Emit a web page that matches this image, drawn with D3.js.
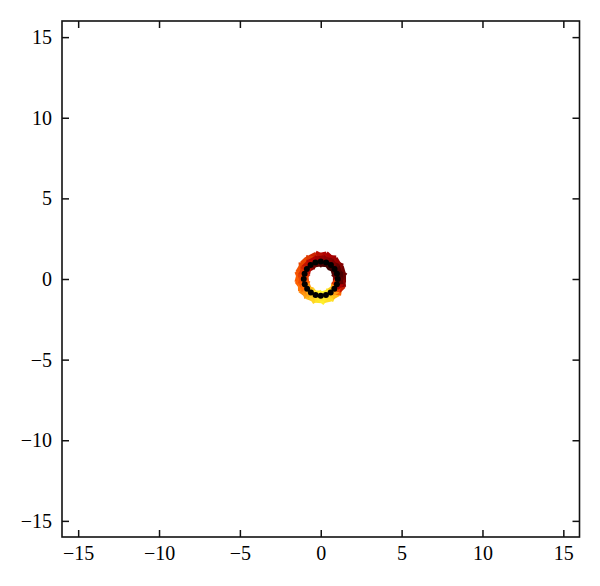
<!DOCTYPE html>
<html>
<head>
<meta charset="utf-8">
<script src="https://cdn.jsdelivr.net/npm/d3@7"></script>
<style>
  body { margin: 0; background: #fff; }
  .axis text { font-family: "Liberation Serif", "Times New Roman", serif; font-size: 20px; fill: #000; }
  .axis line { stroke: #111; stroke-width: 1.5; }
</style>
</head>
<body>
<div id="chart"></div>
<script>
// tick values shared by both axes
const tickValues = [-15, -10, -5, 0, 5, 10, 15];

// outer band of coloured points (angle in degrees, radius in axis units, colour value 0..1)
const outerAngle = [0, 12, 24, 36, 48, 60, 72, 84, 96, 108, 120, 132, 144, 156, 168, 180, 192, 204, 216, 228, 240, 252, 264, 276, 288, 300, 312, 324, 336, 348];
const outerRadius = [1.34, 1.36, 1.38, 1.40, 1.42, 1.44, 1.46, 1.45, 1.46, 1.44, 1.42, 1.43, 1.40, 1.38, 1.36, 1.35, 1.32, 1.30, 1.31, 1.29, 1.28, 1.30, 1.28, 1.30, 1.29, 1.31, 1.30, 1.32, 1.33, 1.35];
const outerValue = [0.22, 0.2, 0.22, 0.26, 0.3, 0.32, 0.34, 0.36, 0.4, 0.48, 0.55, 0.6, 0.6, 0.64, 0.66, 0.68, 0.7, 0.74, 0.78, 0.82, 0.88, 0.92, 0.95, 0.97, 0.94, 0.94, 0.88, 0.72, 0.45, 0.28];

// middle band
const midAngle = [6, 18, 30, 42, 54, 66, 78, 90, 102, 114, 126, 138, 150, 162, 174, 186, 198, 210, 222, 234, 246, 258, 270, 282, 294, 306, 318, 330, 342, 354];
const midRadius = [1.18, 1.17, 1.19, 1.2, 1.2, 1.22, 1.22, 1.23, 1.22, 1.21, 1.2, 1.2, 1.19, 1.18, 1.17, 1.16, 1.15, 1.15, 1.14, 1.14, 1.13, 1.13, 1.14, 1.13, 1.14, 1.15, 1.15, 1.16, 1.17, 1.17];
const midValue = [0.15, 0.14, 0.16, 0.2, 0.24, 0.26, 0.28, 0.3, 0.32, 0.35, 0.38, 0.42, 0.48, 0.54, 0.58, 0.62, 0.66, 0.72, 0.78, 0.84, 0.9, 0.94, 0.95, 0.96, 0.93, 0.9, 0.82, 0.6, 0.35, 0.2];

// inner band, inside the black dots
const innerAngle = [0, 15, 30, 45, 60, 75, 90, 105, 120, 135, 150, 165, 180, 195, 210, 225, 240, 255, 270, 285, 300, 315, 330, 345];
const innerRadius = [0.93, 0.93, 0.94, 0.94, 0.95, 0.95, 0.95, 0.95, 0.94, 0.94, 0.93, 0.93, 0.92, 0.92, 0.92, 0.92, 0.92, 0.92, 0.92, 0.92, 0.92, 0.93, 0.93, 0.93];
const innerValue = [0.3, 0.2, 0.15, 0.12, 0.12, 0.14, 0.15, 0.18, 0.22, 0.3, 0.4, 0.5, 0.6, 0.7, 0.8, 0.88, 0.92, 0.96, 0.98, 0.98, 0.96, 0.92, 0.82, 0.55];

// black dots
const dotAngle = [0, 18, 36, 54, 72, 90, 108, 126, 144, 162, 180, 198, 216, 234, 252, 270, 288, 306, 324, 342];
const dotRadius = [1.05, 1.05, 1.06, 1.07, 1.07, 1.08, 1.07, 1.07, 1.06, 1.05, 1.05, 1.04, 1.04, 1.04, 1.04, 1.04, 1.04, 1.04, 1.04, 1.05];

const width = 600;
const height = 586;
const margin = { top: 21, right: 20.5, bottom: 49, left: 62 };

const xScale = d3.scaleLinear().domain([-16, 16]).range([margin.left, width - margin.right]);
const yScale = d3.scaleLinear().domain([-16, 16]).range([height - margin.bottom, margin.top]);

const heat = d3.scaleLinear()
  .domain([0, 0.35, 0.7, 1])
  .range(["#000000", "#b00000", "#ff6000", "#ffff30"])
  .clamp(true);

const toPoints = (angles, radii, values) =>
  angles.map((a, i) => ({
    x: radii[i] * Math.cos(a * Math.PI / 180),
    y: radii[i] * Math.sin(a * Math.PI / 180),
    v: values ? values[i] : 0,
  }));

const svg = d3.select("#chart")
  .append("svg")
    .attr("width", width)
    .attr("height", height);

const plot = svg.append("g");

// coloured scatter
const bands = [
  { pts: toPoints(outerAngle, outerRadius, outerValue), size: 3.6 },
  { pts: toPoints(midAngle, midRadius, midValue), size: 3.4 },
  { pts: toPoints(innerAngle, innerRadius, innerValue), size: 2.9 },
];

bands.forEach((b) => {
  plot.append("g")
    .selectAll("rect")
    .data(b.pts)
    .join("rect")
      .attr("x", (d) => xScale(d.x) - b.size)
      .attr("y", (d) => yScale(d.y) - b.size)
      .attr("width", b.size * 2)
      .attr("height", b.size * 2)
      .attr("transform", (d, i) => `rotate(${(i * 37) % 90}, ${xScale(d.x)}, ${yScale(d.y)})`)
      .attr("fill", (d) => heat(d.v));
});

// black dots on top
plot.append("g")
  .selectAll("circle")
  .data(toPoints(dotAngle, dotRadius))
  .join("circle")
    .attr("cx", (d) => xScale(d.x))
    .attr("cy", (d) => yScale(d.y))
    .attr("r", 3)
    .attr("fill", "#000");

// axes, ticks pointing inward
const axisBottomG = svg.append("g")
  .attr("class", "axis")
  .attr("transform", `translate(0, ${yScale(-16)})`)
  .call(d3.axisBottom(xScale).tickValues(tickValues).tickSizeInner(-7).tickSizeOuter(0).tickPadding(9));

const axisLeftG = svg.append("g")
  .attr("class", "axis")
  .attr("transform", `translate(${xScale(-16)}, 0)`)
  .call(d3.axisLeft(yScale).tickValues(tickValues).tickSizeInner(-7).tickSizeOuter(0).tickPadding(10));

const axisTopG = svg.append("g")
  .attr("class", "axis")
  .attr("transform", `translate(0, ${yScale(16)})`)
  .call(d3.axisTop(xScale).tickValues(tickValues).tickSizeInner(-7).tickSizeOuter(0).tickFormat(""));

const axisRightG = svg.append("g")
  .attr("class", "axis")
  .attr("transform", `translate(${xScale(16)}, 0)`)
  .call(d3.axisRight(yScale).tickValues(tickValues).tickSizeInner(-7).tickSizeOuter(0).tickFormat(""));

[axisBottomG, axisLeftG, axisTopG, axisRightG].forEach((g) => g.select(".domain").remove());

// frame
svg.append("rect")
  .attr("x", xScale(-16))
  .attr("y", yScale(16))
  .attr("width", xScale(16) - xScale(-16))
  .attr("height", yScale(-16) - yScale(16))
  .attr("fill", "none")
  .attr("stroke", "#111")
  .attr("stroke-width", 1.6);
</script>
</body>
</html>
